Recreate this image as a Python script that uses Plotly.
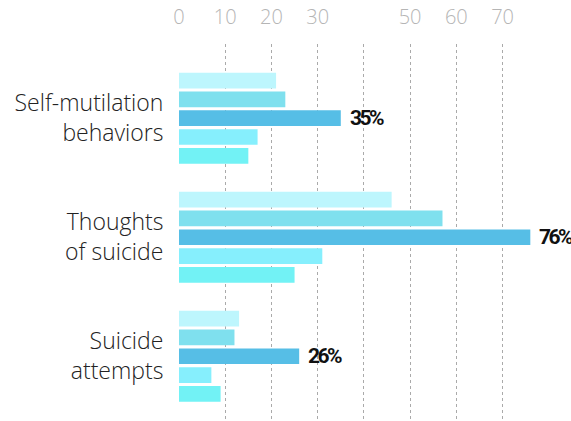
import plotly.graph_objects as go

categories = ["Self-mutilation<br>behaviors", "Thoughts<br>of suicide", "Suicide<br>attempts"]
series_names = ["Group A", "Group B", "Group C", "Group D", "Group E"]
series_values = [
    [21, 46, 13],
    [23, 57, 12],
    [35, 76, 26],
    [17, 31, 7],
    [15, 25, 9],
]
colors = ["#bdf6fd", "#7fe0ee", "#56bee6", "#86effd", "#72f2f5"]
highlight_index = 2
tick_vals = [0, 10, 20, 30, 40, 50, 60, 70]
tick_text = ["0", "10", "20", "30", "", "50", "60", "70"]

fig = go.Figure()
for i, (name, vals) in enumerate(zip(series_names, series_values)):
    fig.add_trace(go.Bar(
        y=categories, x=vals, name=name, orientation="h",
        marker=dict(color=colors[i], line=dict(width=0)),
        hoverinfo="x+name",
    ))

for cat, v in zip(categories, series_values[highlight_index]):
    fig.add_annotation(
        x=v, y=cat, text=f'<span style="letter-spacing:-2.5px">{v}%</span>', showarrow=False,
        xanchor="left", yanchor="middle", xshift=7,
        font=dict(family="Roboto, Liberation Sans, sans-serif",
                  size=21, color="#111111", weight="bold"),
    )

fig.update_layout(
    width=571, height=421,
    margin=dict(l=179, r=0, t=44, b=0),
    paper_bgcolor="white", plot_bgcolor="white",
    barmode="group", bargap=0.21, bargroupgap=0.165,
    showlegend=False,
    xaxis=dict(
        side="top", range=[0, 84.8], automargin=False,
        tickvals=tick_vals, ticktext=tick_text,
        showgrid=True, gridcolor="#aaaaaa", gridwidth=1, griddash="3px,3px",
        zeroline=False, showline=False,
        ticks="outside", ticklen=11, tickcolor="rgba(0,0,0,0)",
        tickfont=dict(family="Open Sans, Lato, sans-serif", size=20, color="#b5b5b5", weight=300),
    ),
    yaxis=dict(
        range=[2.544, -0.6235], automargin=False,
        showgrid=False, zeroline=False, showline=False,
        ticks="outside", ticklen=10, tickcolor="rgba(0,0,0,0)",
        tickfont=dict(family="Open Sans, Lato, sans-serif", size=23, color="#222222", weight=300),
    ),
)

fig.write_html("out.html", config={"displayModeBar": False},
               post_script="document.body.style.margin='0';")
